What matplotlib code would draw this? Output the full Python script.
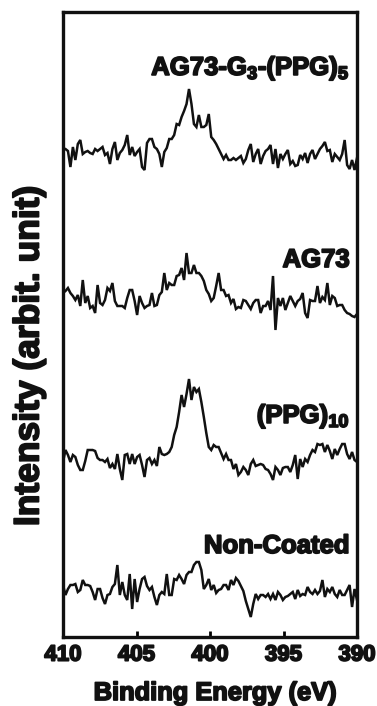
import numpy as np
import matplotlib
matplotlib.use('Agg')
import matplotlib.pyplot as plt
import matplotlib.patheffects as pe

# ---------------- data (arbitrary units) ----------------
energy_start, energy_end = 410, 390

ag73_g3_ppg5 = [2, 3, 1, -15, 5, -8, 8, 12, -2, 0,
                1, -1, -2, 3, 1, 3, 5, -3, -1, -12,
                3, 10, -8, -1, 2, 7, 17, -3, 5, -4,
                0, 3, -15, -18, 9, 13, 13, 5, 3, -2,
                -15, 0, 4, 13, 13, 17, 28, 27, 35, 41,
                48, 63, 48, 28, 25, 37, 25, 25, 27, 38,
                15,
                12, 8, 3, -2, -7, -3, -8, -8, -6, -8,
                -6, -4, -11, -7, 2, 8, -10, -2, 3, -12,
                -4, 1, 3, 7, -12, 3, -16, -2, -7, -2,
                2, -12, -9, -14, -13, -3, -7, -1, -11, -2,
                2, -7, -2, 3, 6, 10, 1, 2, -10, -2,
                -5, -8, -2, 12, -13, -17, -8, -18, -6]

ag73 = [10, 12, 15, 10, 7, 3, 8, -3, 23, 0,
        7, -5, -3, -10, 18, 0, -2, 3, 15, 12,
        20, 2, -3, -3, -3, -5, 5, 13, 13, 2,
        -12, 7, 0, -5, -3, -2, 10, -3, -2, 8,
        11, 30, 13, 20, 18, 18, 27, 28, 35, 23,
        50, 30, 30, 38, 30, 30, 27, 22, 13, 9,
        2,
        5, 17, 30, 13, 13, 7, 8, 0, 4, -6,
        -4, -5, 3, 2, -2, -6, 0, 3, 3, -10,
        -3, -3, 2, -7, 27, -27, 5, -3, 5, -7,
        0, 7, 2, -3, 2, 4, 10, -10, -15, 3,
        2, 2, 17, 0, 6, 3, 20, -2, 7, 5,
        -3, -2, -2, -7, -10, -11, -13, -14, -11]

ppg10 = [0, 12, 7, 0, 7, 5, -3, -8, -8, 1,
         12, 12, 12, 11, 4, 2, 2, 0, 3, -6,
         -2, -7, 8, -7, -18, 7, 8, -2, 8, -2,
         5, 7, -3, -15, 2, 4, -2, 2, -4, 15,
         8, 7, 8, 10, 15, 27, 35, 50, 67, 55,
         68, 83, 62, 75, 70, 73, 60, 45, 29, 15,
         12,
         17, 15, 15, 9, 3, 8, 2, 2, -7, -2,
         -13, -10, -5, -8, -13, -2, 2, -4, -3, -2,
         -3, -7, -8, -12, -18, -5, -8, -13, -6, -5,
         -5, -10, -3, 7, -17, 3, -5, 3, 0, 7,
         12, 10, 18, 17, 18, 10, 17, 11, 3, 13,
         7, 13, 18, 18, 8, 3, 10, 2, 0]

non_coated = [7, -3, 3, 7, 7, 8, 0, 2, 12, 7,
              7, 6, 0, -8, 3, 3, -6, -12, -3, -2,
              5, 8, 27, -3, 10, -3, -8, 18, -17, 13,
              -10, 3, 13, 15, 6, 2, 5, -5, -13, -3,
              0, -2, 18, -3, -3, 13, 12, 17, 13, 8,
              17, 20, 20, 27, 30, 30, 22, 3, 7, 13,
              2,
              7, -1, 2, 3, 7, 7, 2, 12, 7, 14,
              11, 6, 1, -9, -17, -25, -12, -2, -7, -3,
              -3, -5, -2, -7, -2, -8, 0, -3, -8, -5,
              -4, -2, 0, -7, 2, -4, -2, -3, 5, 0,
              -2, 2, -2, 1, 12, -5, 3, 0, 5, -2,
              -5, 2, -3, -3, 2, 7, -15, 3, -8]

series = [ag73_g3_ppg5, ag73, ppg10, non_coated]
labels = ['AG73-G$_3$-(PPG)$_5$', 'AG73', '(PPG)$_{10}$', 'Non-Coated']
offsets = [485, 334, 175, 45]          # vertical stacking offsets
label_y = [562, 370, 214, 84]          # label baselines (data units)
x_ticks = [410, 405, 400, 395, 390]
x_tick_labels = ['410', '405', '400', '395', '390']

# ---------------- style ----------------
plt.rcParams['font.family'] = ['Liberation Sans', 'DejaVu Sans']
plt.rcParams['font.weight'] = 'bold'
plt.rcParams['mathtext.fontset'] = 'custom'
plt.rcParams['mathtext.rm'] = 'Liberation Sans:bold'
plt.rcParams['mathtext.it'] = 'Liberation Sans:bold'
plt.rcParams['mathtext.bf'] = 'Liberation Sans:bold'
plt.rcParams['mathtext.default'] = 'rm'

INK = '#111111'
heavy = [pe.withStroke(linewidth=1.3, foreground=INK)]

W, H = 377, 706
fig = plt.figure(figsize=(W / 100, H / 100), dpi=100)
ax = fig.add_axes([63 / W, 69 / H, 294 / W, 625 / H])

for vals, off in zip(series, offsets):
    e = np.linspace(energy_start, energy_end, len(vals))
    ax.plot(e, np.asarray(vals) + off, color=INK, lw=1.8, solid_joinstyle='miter')

for lab, ly in zip(labels, label_y):
    ax.text(390.48, ly, lab, ha='right', va='baseline', fontsize=18.5,
            fontweight='bold', color=INK, path_effects=heavy)

ax.set_xlim(410, 390)
ax.set_ylim(0, 625)
ax.set_xticks(x_ticks)
ax.set_xticklabels(x_tick_labels, fontsize=16, fontweight='bold', color=INK)
for t in ax.get_xticklabels():
    t.set_path_effects(heavy)
ax.set_yticks([])
ax.tick_params(axis='x', direction='in', length=4, width=2, pad=5.5, top=False)
for sp in ax.spines.values():
    sp.set_linewidth(2.4)
    sp.set_color(INK)

fig.text(215 / W, 1 - 700 / H, 'Binding Energy (eV)', ha='center', va='baseline',
         fontsize=18.3, fontweight='bold', color=INK, path_effects=heavy)
fig.text(29 / W, 1 - 356 / H, 'Intensity (arbit. unit)', ha='center', va='center',
         rotation=90, fontsize=25.5, fontweight='bold', color=INK, path_effects=heavy)

fig.savefig('out.png', dpi=100)
